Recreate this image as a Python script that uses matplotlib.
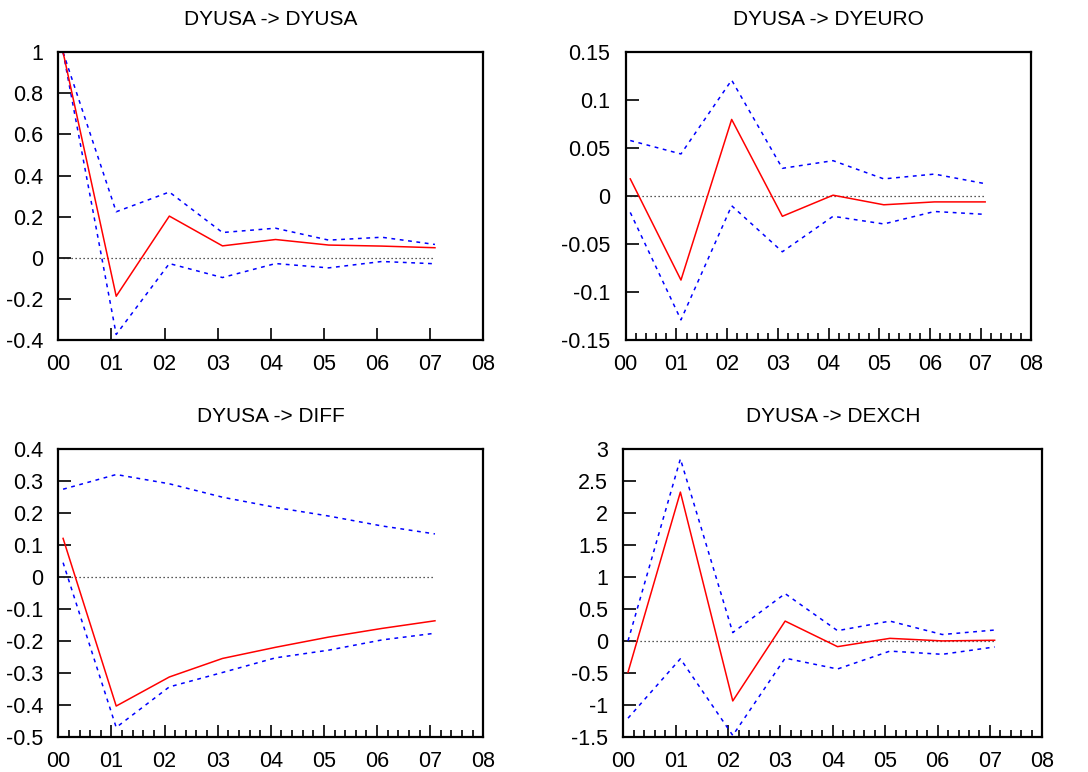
import matplotlib
matplotlib.use("Agg")
import matplotlib.pyplot as plt
from matplotlib.ticker import FixedLocator, FuncFormatter, MultipleLocator

plt.rcParams['font.family'] = ['Liberation Sans', 'DejaVu Sans']

# horizon (years into the response), points sit just after each tick
steps = [0, 1, 2, 3, 4, 5, 6, 7]
offset = 0.09
year_labels = ['00', '01', '02', '03', '04', '05', '06', '07', '08']

titles = ['DYUSA -> DYUSA', 'DYUSA -> DYEURO', 'DYUSA -> DIFF', 'DYUSA -> DEXCH']

# impulse responses and confidence bands
resp_dyusa = [1.0, -0.187, 0.203, 0.058, 0.089, 0.062, 0.057, 0.049]
upper_dyusa = [1.0, 0.224, 0.320, 0.123, 0.144, 0.086, 0.100, 0.065]
lower_dyusa = [1.0, -0.373, -0.028, -0.096, -0.028, -0.049, -0.018, -0.029]

resp_dyeuro = [0.018, -0.0875, 0.080, -0.021, 0.001, -0.009, -0.006, -0.006]
upper_dyeuro = [0.058, 0.044, 0.121, 0.029, 0.037, 0.018, 0.023, 0.013]
lower_dyeuro = [-0.017, -0.129, -0.010, -0.058, -0.021, -0.029, -0.016, -0.019]

resp_diff = [0.121, -0.404, -0.313, -0.255, -0.220, -0.188, -0.161, -0.137]
upper_diff = [0.275, 0.321, 0.292, 0.250, 0.218, 0.191, 0.160, 0.135]
lower_diff = [0.045, -0.471, -0.344, -0.299, -0.253, -0.229, -0.197, -0.176]

resp_dexch = [-0.49, 2.33, -0.94, 0.31, -0.09, 0.04, 0.0, 0.01]
upper_dexch = [0.0, 2.85, 0.13, 0.74, 0.16, 0.31, 0.10, 0.17]
lower_dexch = [-1.21, -0.28, -1.48, -0.27, -0.44, -0.16, -0.21, -0.095]

responses = [resp_dyusa, resp_dyeuro, resp_diff, resp_dexch]
uppers = [upper_dyusa, upper_dyeuro, upper_diff, upper_dexch]
lowers = [lower_dyusa, lower_dyeuro, lower_diff, lower_dexch]

ylims = [(-0.4, 1.0), (-0.15, 0.15), (-0.5, 0.4), (-1.5, 3.0)]
ysteps = [0.2, 0.05, 0.1, 0.5]
minor = [False, True, True, True]

W, H = 1088, 772
# axes boxes in pixels: left, top, right, bottom
boxes = [(58.3, 52.3, 483.3, 340.0),
         (625.7, 52.3, 1031.3, 340.0),
         (58.3, 449.3, 483.3, 736.7),
         (623.3, 449.3, 1042.3, 736.7)]

fig = plt.figure(figsize=(W / 100, H / 100), dpi=100)

x = [s + offset for s in steps]

for i in range(4):
    l, t, r, b = boxes[i]
    ax = fig.add_axes([l / W, 1 - b / H, (r - l) / W, (b - t) / H])

    ax.plot([x[0], x[-1]], [0, 0], color='#222222', lw=0.9, ls=(0, (1, 2.2)))
    ax.plot(x, uppers[i], color='#0000ff', lw=1.1, ls=(0, (2.5, 3)))
    ax.plot(x, lowers[i], color='#0000ff', lw=1.1, ls=(0, (2.5, 3)))
    ax.plot(x, responses[i], color='#ff0000', lw=1.1)

    ax.set_xlim(0, 8)
    ax.set_ylim(*ylims[i])
    ax.xaxis.set_major_locator(FixedLocator(range(9)))
    ax.set_xticklabels(year_labels)
    if minor[i]:
        ax.xaxis.set_minor_locator(MultipleLocator(0.2))
    ax.yaxis.set_major_locator(MultipleLocator(ysteps[i]))
    ax.yaxis.set_major_formatter(FuncFormatter(lambda v, p: '%g' % round(v, 6)))

    ax.tick_params(which='both', direction='in', top=False, right=False,
                   labelsize=15.5, width=1.2)
    ax.tick_params(axis='x', pad=10)
    ax.tick_params(axis='y', pad=11)
    ax.tick_params(which='major', length=9)
    ax.tick_params(which='minor', length=5)
    for sp in ax.spines.values():
        sp.set_linewidth(1.6)

    ax.set_title(titles[i], fontsize=15, pad=20)

fig.savefig('out.png', dpi=100)
